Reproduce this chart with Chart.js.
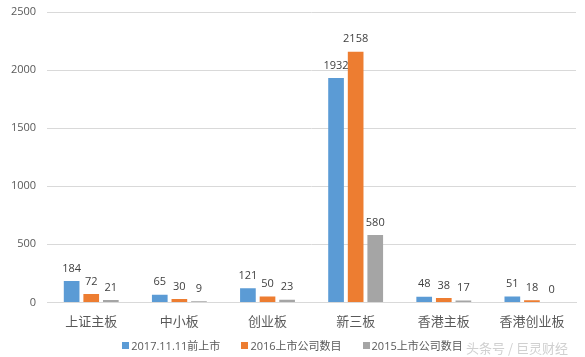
<!DOCTYPE html>
<html>
<head>
<meta charset="utf-8">
<script src="https://cdn.jsdelivr.net/npm/chart.js@4"></script>
<style>
html,body{margin:0;padding:0;background:#fff;}
#wrap{position:relative;width:585px;height:357px;}
#wm{position:absolute;left:466px;top:338px;font:13px "Noto Sans CJK SC",sans-serif;color:#d0d0d0;white-space:nowrap;}
#legend{position:absolute;left:0;width:585px;top:337px;height:16px;display:flex;justify-content:center;align-items:center;gap:21px;
  font:11px "Open Sans","Noto Sans CJK SC",sans-serif;color:#595959;}
#legend .it{display:flex;align-items:center;gap:2px;white-space:nowrap;}
#legend .sw{width:7px;height:7px;display:inline-block;}
</style>
</head>
<body>
<div id="wrap"><canvas id="c" width="585" height="357"></canvas><div id="legend"></div><div id="wm">头条号 / 巨灵财经</div></div>
<script>
const categories = ["上证主板", "中小板", "创业板", "新三板", "香港主板", "香港创业板"];
const seriesNames = ["2017.11.11前上市", "2016上市公司数目", "2015上市公司数目"];
const before2017 = [184, 65, 121, 1932, 48, 51];
const listed2016 = [72, 30, 50, 2158, 38, 18];
const listed2015 = [21, 9, 23, 580, 17, 0];
const yTicks = [0, 500, 1000, 1500, 2000, 2500];

const colors = ["#5B9BD5", "#ED7D31", "#A5A5A5"];
const fontFam = '"Open Sans","Noto Sans CJK SC",sans-serif';

const labelPlugin = {
  id: 'valLabels',
  afterDatasetsDraw(chart) {
    const ctx = chart.ctx;
    ctx.save();
    ctx.font = '11px ' + fontFam;
    ctx.fillStyle = '#404040';
    ctx.textAlign = 'center';
    ctx.textBaseline = 'bottom';
    chart.data.datasets.forEach((ds, i) => {
      const meta = chart.getDatasetMeta(i);
      meta.data.forEach((bar, j) => {
        ctx.fillText(String(ds.data[j]), bar.x, bar.y - 7);
      });
    });
    ctx.restore();
  }
};

const chart = new Chart(document.getElementById('c'), {
  type: 'bar',
  data: {
    labels: categories,
    datasets: [
      { label: seriesNames[0], data: before2017, backgroundColor: colors[0] },
      { label: seriesNames[1], data: listed2016, backgroundColor: colors[1] },
      { label: seriesNames[2], data: listed2015, backgroundColor: colors[2] }
    ]
  },
  options: {
    responsive: false,
    animation: false,
    devicePixelRatio: 1,
    layout: { padding: { left: 0, right: 9, top: 12, bottom: 23 } },
    datasets: { bar: { categoryPercentage: 0.667, barPercentage: 0.8 } },
    plugins: {
      legend: { display: false },
      tooltip: { enabled: false }
    },
    scales: {
      x: {
        grid: { display: false },
        border: { display: true, color: '#D9D9D9' },
        ticks: { color: '#595959', font: { size: 13, family: fontFam }, padding: 4 }
      },
      y: {
        min: 0, max: 2500,
        afterBuildTicks(axis) { axis.ticks = yTicks.map(v => ({ value: v })); },
        afterFit(axis) { axis.paddingTop = 0; axis.paddingBottom = 0; },
        grid: { color: '#D9D9D9', drawTicks: false },
        border: { display: false },
        ticks: { color: '#595959', font: { size: 11, family: fontFam }, padding: 11,
                 callback: v => String(v) }
      }
    }
  },
  plugins: [labelPlugin]
});

const lg = document.getElementById('legend');
chart.data.datasets.forEach(ds => {
  const it = document.createElement('span'); it.className = 'it';
  const sw = document.createElement('span'); sw.className = 'sw'; sw.style.background = ds.backgroundColor;
  const tx = document.createElement('span'); tx.textContent = ds.label;
  it.appendChild(sw); it.appendChild(tx); lg.appendChild(it);
});
</script>
</body>
</html>
